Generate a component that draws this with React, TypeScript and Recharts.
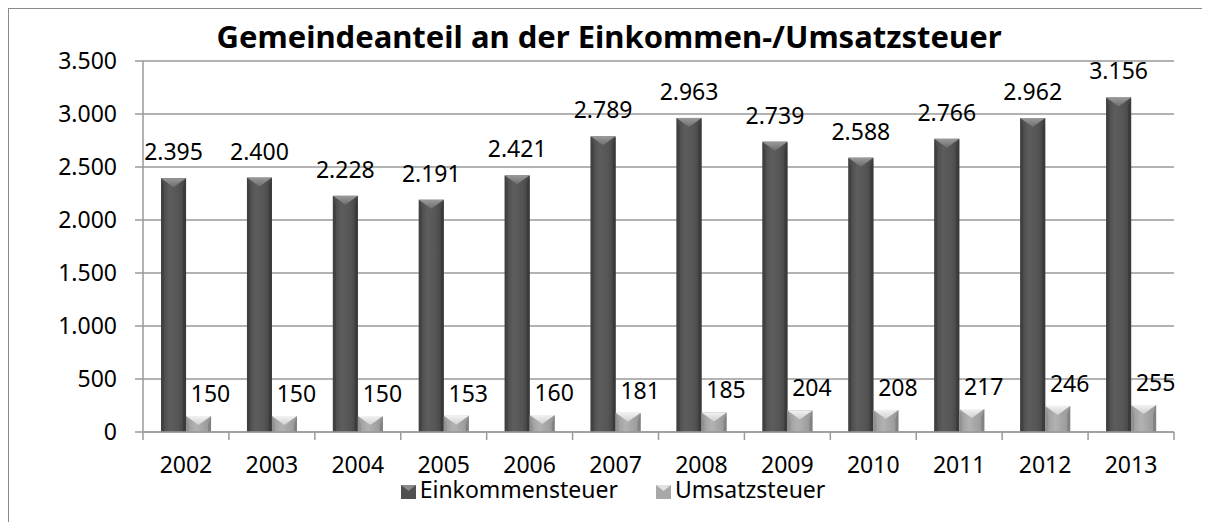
import React from 'react';
import { BarChart, Bar, XAxis, YAxis, CartesianGrid, LabelList } from 'recharts';

const years = ['2002', '2003', '2004', '2005', '2006', '2007', '2008', '2009', '2010', '2011', '2012', '2013'];
const einkommensteuer = [2395, 2400, 2228, 2191, 2421, 2789, 2963, 2739, 2588, 2766, 2962, 3156];
const umsatzsteuer = [150, 150, 150, 153, 160, 181, 185, 204, 208, 217, 246, 255];
const yTicks = [0, 500, 1000, 1500, 2000, 2500, 3000, 3500];

const data = years.map((year, i) => ({
  year,
  einkommen: einkommensteuer[i],
  umsatz: umsatzsteuer[i],
}));

const FONT = '"Noto Sans", sans-serif';
const GRID = '#9a9a9a';
const CHART_W = 1202;
const CHART_H = 514;
const MARGIN = { top: 53, right: 36, left: 55, bottom: 60 };
const BAND = (CHART_W - MARGIN.left - 80 - MARGIN.right) / years.length;

// German thousands separator
const fmt = (v: number) => String(v).replace(/\B(?=(\d{3})+(?!\d))/g, '.');

const BevelBar = (props: any) => {
  const { x, y, width, height, light } = props;
  if (!height || height <= 0) return null;
  const d = Math.min(9, height * 0.6);
  const s = Math.min(3, width / 6);
  return (
    <g>
      <rect x={x} y={y} width={width} height={height} fill={light ? 'url(#gLight)' : 'url(#gDark)'} />
      {/* side bevels */}
      <polygon points={`${x},${y} ${x + s},${y + d} ${x + s},${y + height} ${x},${y + height}`} fill={light ? '#8e8e8e' : '#3f3f3f'} opacity={0.8} />
      <polygon points={`${x + width},${y} ${x + width - s},${y + d} ${x + width - s},${y + height} ${x + width},${y + height}`} fill={light ? '#7d7d7d' : '#383838'} opacity={0.8} />
      {/* top bevel */}
      <polygon
        points={`${x},${y} ${x + width},${y} ${x + width / 2},${y + d}`}
        fill={light ? 'url(#gLightTop)' : 'url(#gDarkTop)'}
      />
    </g>
  );
};

const YearTick = (props: any) => {
  const { x, y, payload, index } = props;
  const axisY = y - 25;
  const last = index === years.length - 1;
  return (
    <g>
      <line x1={x - BAND / 2} y1={axisY} x2={x - BAND / 2} y2={axisY + 8} stroke={GRID} strokeWidth={1.5} />
      {last && <line x1={x + BAND / 2} y1={axisY} x2={x + BAND / 2} y2={axisY + 8} stroke={GRID} strokeWidth={1.5} />}
      <text x={x} y={y} dy="0.71em" textAnchor="middle" fontFamily={FONT} fontSize={23} fill="#000">
        {payload.value}
      </text>
    </g>
  );
};

const makeLabel = (dx: number, dy: number) => (props: any) => {
  const { x, y, width, value } = props;
  return (
    <text x={x + width / 2 + dx} y={y - dy} textAnchor="middle" fontFamily={FONT} fontSize={23} fill="#000">
      {fmt(value)}
    </text>
  );
};

const LegendIcon = ({ light }: { light: boolean }) => (
  <svg width={15} height={14} style={{ marginRight: 4, position: 'relative', top: 3 }}>
    <rect x={0} y={0} width={15} height={14} fill={light ? '#a8a8a8' : '#505050'} />
    <polygon points="0,0 15,0 7.5,6" fill={light ? '#e2e2e2' : '#8a8a8a'} />
  </svg>
);

export default function App() {
  return (
    <div style={{ position: 'relative', width: CHART_W, height: CHART_H, overflow: 'hidden' }}>
      <div
        style={{
          position: 'absolute',
          top: 0,
          left: 0,
          width: 3000,
          height: 3000,
          borderLeft: '1.5px solid #8a8a8a',
          borderTop: '1.5px solid #8a8a8a',
        }}
      />
      <div
        style={{
          position: 'absolute',
          top: 7,
          left: 0,
          width: CHART_W,
          textAlign: 'center',
          fontFamily: FONT,
          fontWeight: 700,
          fontSize: 31,
          color: '#000',
          zIndex: 2,
        }}
      >
        Gemeindeanteil an der Einkommen-/Umsatzsteuer
      </div>
      <div style={{ position: 'absolute', top: 0, left: 0 }}>
        <BarChart width={CHART_W} height={CHART_H} data={data} margin={MARGIN} barCategoryGap="21%" barGap={0}>
          <defs>
            <linearGradient id="gDark" x1="0" y1="0" x2="1" y2="0">
              <stop offset="0%" stopColor="#474747" />
              <stop offset="35%" stopColor="#5d5d5d" />
              <stop offset="70%" stopColor="#555555" />
              <stop offset="100%" stopColor="#404040" />
            </linearGradient>
            <linearGradient id="gLight" x1="0" y1="0" x2="1" y2="0">
              <stop offset="0%" stopColor="#9a9a9a" />
              <stop offset="40%" stopColor="#b2b2b2" />
              <stop offset="100%" stopColor="#959595" />
            </linearGradient>
            <linearGradient id="gDarkTop" x1="0" y1="0" x2="0" y2="1">
              <stop offset="0%" stopColor="#9a9a9a" />
              <stop offset="100%" stopColor="#6e6e6e" />
            </linearGradient>
            <linearGradient id="gLightTop" x1="0" y1="0" x2="0" y2="1">
              <stop offset="0%" stopColor="#f2f2f2" />
              <stop offset="100%" stopColor="#d0d0d0" />
            </linearGradient>
          </defs>
          <CartesianGrid horizontal={true} vertical={false} stroke={GRID} strokeWidth={1.5} />
          <XAxis
            dataKey="year"
            axisLine={{ stroke: GRID, strokeWidth: 1.5 }}
            tickLine={false}
            tickSize={8}
            tickMargin={17}
            tick={<YearTick />}
            height={30}
            interval={0}
          />
          <YAxis
            domain={[0, 3500]}
            ticks={yTicks}
            tickFormatter={fmt}
            axisLine={{ stroke: GRID, strokeWidth: 1.5 }}
            tickLine={{ stroke: GRID, strokeWidth: 1.5 }}
            tickSize={8}
            tickMargin={18}
            width={80}
            tick={{ fontFamily: FONT, fontSize: 23, fill: '#000' }}
            interval={0}
          />
          <Bar dataKey="einkommen" name="Einkommensteuer" isAnimationActive={false} shape={<BevelBar light={false} />}>
            <LabelList dataKey="einkommen" content={makeLabel(0, 18)} />
          </Bar>
          <Bar dataKey="umsatz" name="Umsatzsteuer" isAnimationActive={false} shape={<BevelBar light={true} />}>
            <LabelList dataKey="umsatz" content={makeLabel(12, 14)} />
          </Bar>
        </BarChart>
      </div>
      <div
        style={{
          position: 'absolute',
          top: 471,
          left: 0,
          width: CHART_W,
          display: 'flex',
          justifyContent: 'center',
          alignItems: 'center',
          fontFamily: FONT,
          fontSize: 23,
          lineHeight: '20px',
          color: '#000',
          paddingLeft: 8,
          boxSizing: 'border-box',
        }}
      >
        <span style={{ display: 'flex', alignItems: 'center', marginRight: 38 }}>
          <LegendIcon light={false} />
          Einkommensteuer
        </span>
        <span style={{ display: 'flex', alignItems: 'center' }}>
          <LegendIcon light={true} />
          Umsatzsteuer
        </span>
      </div>
    </div>
  );
}
